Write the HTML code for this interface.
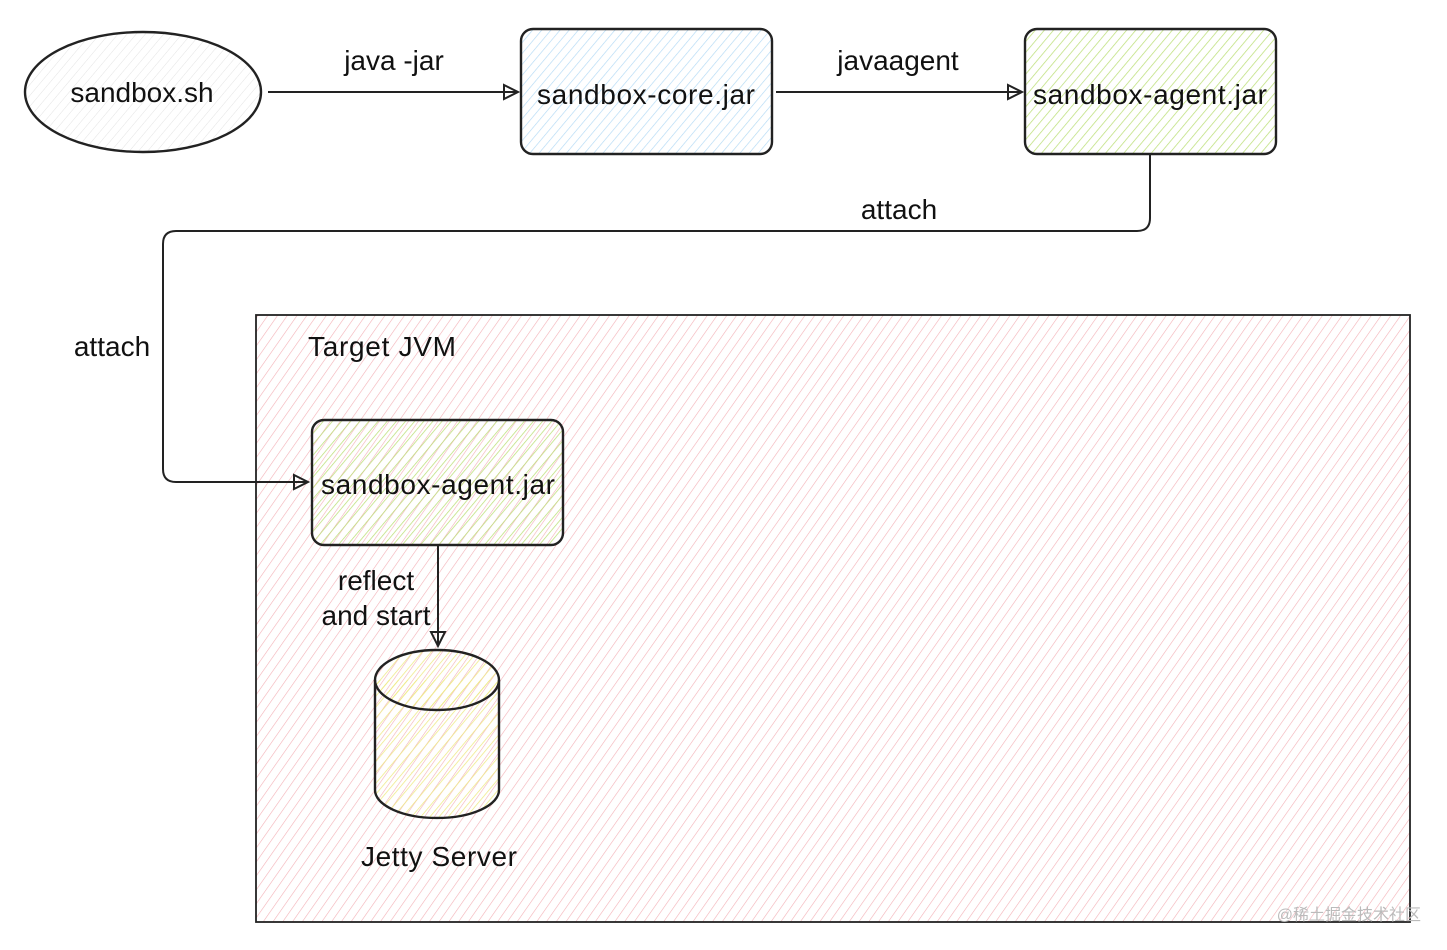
<!DOCTYPE html>
<html><head><meta charset="utf-8"><style>
body{margin:0;background:#fff;}
svg{display:block}
text{font-family:"Liberation Sans",sans-serif;fill:#111;}
</style></head><body>
<svg width="1447" height="950" viewBox="0 0 1447 950" xmlns="http://www.w3.org/2000/svg">
<defs>
<pattern id="pk" width="8" height="8" patternUnits="userSpaceOnUse" patternTransform="rotate(35)"><line x1="0" y1="0" x2="0" y2="8" stroke="#f3b0b6" stroke-width="1.2"/></pattern>
<pattern id="gr" width="7" height="7" patternUnits="userSpaceOnUse" patternTransform="rotate(40)"><line x1="0" y1="0" x2="0" y2="7" stroke="#bde07a" stroke-width="1.5"/></pattern>
<pattern id="bl" width="7" height="7" patternUnits="userSpaceOnUse" patternTransform="rotate(40)"><line x1="0" y1="0" x2="0" y2="7" stroke="#b2d9f5" stroke-width="1.3"/></pattern>
<pattern id="ye" width="7" height="7" patternUnits="userSpaceOnUse" patternTransform="rotate(40)"><line x1="0" y1="0" x2="0" y2="7" stroke="#eeea86" stroke-width="1.5"/></pattern>
<pattern id="gy" width="7" height="7" patternUnits="userSpaceOnUse" patternTransform="rotate(40)"><line x1="0" y1="0" x2="0" y2="7" stroke="#e3e3e3" stroke-width="1"/></pattern>
</defs>
<g stroke="#222" stroke-width="2.4" fill="none">
<rect x="256" y="315" width="1154" height="607" fill="url(#pk)" stroke-width="1.8"/>
<ellipse cx="143" cy="92" rx="118" ry="60" fill="url(#gy)"/>
<rect x="521" y="29" width="251" height="125" rx="12" fill="url(#bl)"/>
<rect x="1025" y="29" width="251" height="125" rx="12" fill="url(#gr)"/>
<rect x="312" y="420" width="251" height="125" rx="12" fill="url(#gr)"/>
<path d="M375 680 L375 790 A62 28 0 0 0 499 790 L499 680" fill="url(#ye)"/>
<ellipse cx="437" cy="680" rx="62" ry="30" fill="url(#ye)"/>
<g stroke-width="2">
<line x1="268" y1="92" x2="518" y2="92"/>
<path d="M504 85 L518 92 L504 99 Z"/>
<line x1="776" y1="92" x2="1022" y2="92"/>
<path d="M1008 85 L1022 92 L1008 99 Z"/>
<path d="M1150 155 L1150 218 Q1150 231 1137 231 L176 231 Q163 231 163 244 L163 469 Q163 482 176 482 L308 482"/>
<path d="M294 475 L308 482 L294 489 Z"/>
<line x1="438" y1="545" x2="438" y2="646"/>
<path d="M431 632 L438 646 L445 632 Z"/>
</g>
</g>
<g font-size="28">
<text x="142" y="102" text-anchor="middle">sandbox.sh</text>
<text x="646" y="104" text-anchor="middle" textLength="218">sandbox-core.jar</text>
<text x="1150" y="104" text-anchor="middle" textLength="234">sandbox-agent.jar</text>
<text x="438" y="494" text-anchor="middle" textLength="234">sandbox-agent.jar</text>
<text x="394" y="70" text-anchor="middle">java -jar</text>
<text x="898" y="70" text-anchor="middle">javaagent</text>
<text x="899" y="219" text-anchor="middle">attach</text>
<text x="112" y="356" text-anchor="middle">attach</text>
<text x="308" y="356" textLength="148">Target JVM</text>
<text x="376" y="590" text-anchor="middle">reflect</text>
<text x="376" y="625" text-anchor="middle">and start</text>
<text x="439" y="866" text-anchor="middle" textLength="156">Jetty Server</text>
</g>
<text x="1421" y="920" text-anchor="end" font-size="16" style="fill:#bbb;font-family:'Liberation Sans','Noto Sans CJK SC',sans-serif">@稀土掘金技术社区</text>
</svg>
</body></html>
